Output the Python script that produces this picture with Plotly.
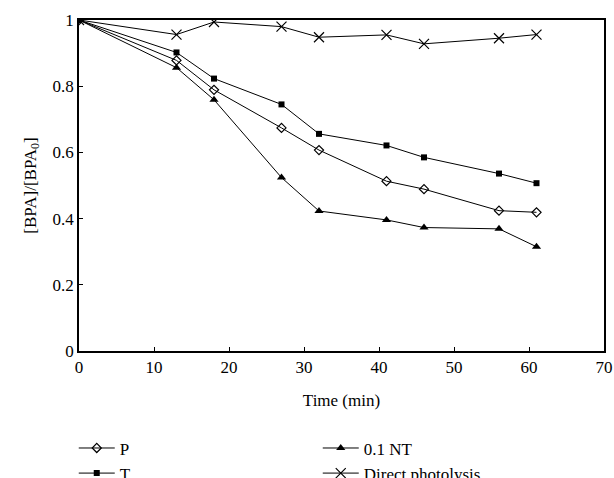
import plotly.graph_objects as go

time = [0, 13, 18, 27, 32, 41, 46, 56, 61]
p_vals = [1.0, 0.878, 0.789, 0.674, 0.607, 0.513, 0.489, 0.424, 0.419]
t_vals = [1.0, 0.902, 0.823, 0.745, 0.656, 0.621, 0.585, 0.536, 0.507]
nt_vals = [1.0, 0.856, 0.759, 0.524, 0.423, 0.396, 0.373, 0.369, 0.315]
direct_vals = [1.0, 0.956, 0.994, 0.980, 0.948, 0.955, 0.928, 0.945, 0.956]

x_ticks = [0, 10, 20, 30, 40, 50, 60, 70]
y_ticks = [0, 0.2, 0.4, 0.6, 0.8, 1]
y_tick_text = ["0", "0.2", "0.4", "0.6", "0.8", "1"]

FONT = "Liberation Serif"
FS = 17

fig = go.Figure()
fig.add_trace(go.Scatter(x=time, y=p_vals, name="P", mode="lines+markers",
                         line=dict(color="black", width=1),
                         marker=dict(symbol="diamond-open", size=7, color="black", line=dict(width=1.2))))
fig.add_trace(go.Scatter(x=time, y=nt_vals, name="0.1 NT", mode="lines+markers",
                         line=dict(color="black", width=1),
                         marker=dict(symbol="triangle-up", size=8, color="black")))
fig.add_trace(go.Scatter(x=time, y=t_vals, name="T", mode="lines+markers",
                         line=dict(color="black", width=1),
                         marker=dict(symbol="square", size=6, color="black")))
fig.add_trace(go.Scatter(x=time, y=direct_vals, name="Direct photolysis", mode="lines+markers",
                         line=dict(color="black", width=1),
                         marker=dict(symbol="x-thin-open", size=10, color="black", line=dict(width=1.2, color="black"))))

fig.update_layout(
    width=614, height=478,
    margin=dict(l=79, r=10, t=20, b=127, autoexpand=False),
    paper_bgcolor="white", plot_bgcolor="white",
    font=dict(family=FONT, size=FS, color="black"),
    showlegend=True,
    legend=dict(orientation="h", x=-0.01, xanchor="left",
                y=-0.24, yanchor="top",
                entrywidth=193, entrywidthmode="pixels",
                font=dict(family=FONT, size=FS), tracegroupgap=0,
                itemwidth=36, bgcolor="rgba(0,0,0,0)"),
    xaxis=dict(range=[0, 70], tickvals=x_ticks, ticks="inside", ticklen=4, tickcolor="black",
               showline=True, linecolor="black", linewidth=1.5, mirror=True, showgrid=False, zeroline=False,
               title=dict(text="Time (min)", font=dict(family=FONT, size=FS), standoff=18),
               tickfont=dict(family=FONT, size=FS)),
    yaxis=dict(range=[0, 1], tickvals=y_ticks, ticktext=y_tick_text, ticks="inside", ticklen=4, tickcolor="black",
               showline=True, linecolor="black", linewidth=1.5, mirror=True, showgrid=False, zeroline=False,
               title=dict(text="[BPA]/[BPA<sub>0</sub>]", font=dict(family=FONT, size=FS), standoff=12),
               tickfont=dict(family=FONT, size=FS)),
)

fig.write_html("out.html")
